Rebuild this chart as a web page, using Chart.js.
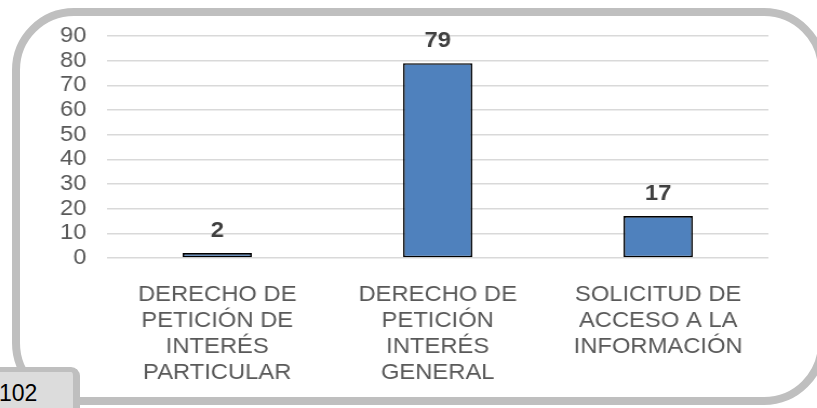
<!DOCTYPE html>
<html>
<head>
<meta charset="utf-8">
<script src="https://cdn.jsdelivr.net/npm/chart.js@4"></script>
<style>
  html, body { margin: 0; padding: 0; background: #fff; overflow: hidden; }
  #page { position: relative; width: 817px; height: 408px; overflow: hidden; font-family: "Liberation Sans", Arial, sans-serif; }
  #frame { position: absolute; left: 12px; top: 8px; width: 798px; height: 381px; border: 8px solid #bfbfbf; border-radius: 62px; }
  #tab { position: absolute; left: -10px; top: 367px; width: 83px; height: 60px; background: #dcdcdc; border-top: 5px solid #bfbfbf; border-right: 7px solid #bfbfbf; border-top-right-radius: 9px; }
  #tab-text { position: absolute; left: -1px; top: 382px; font-size: 23px; line-height: 23px; color: #000; }
  /* the source picture is stretched sideways a little, so the canvas is too */
  #wrap { position: absolute; left: 0; top: 0; width: 756px; height: 408px; transform: scaleX(1.0807); transform-origin: 0 0; }
</style>
</head>
<body>
<div id="page">
  <div id="frame"></div>
  <div id="wrap"><canvas id="chart" width="756" height="408"></canvas></div>
  <div id="tab"></div>
  <div id="tab-text">102</div>
</div>
<script>
const categories = [
  ['DERECHO DE', 'PETICIÓN DE', 'INTERÉS', 'PARTICULAR'],
  ['DERECHO DE', 'PETICIÓN', 'INTERÉS', 'GENERAL'],
  ['SOLICITUD DE', 'ACCESO A LA', 'INFORMACIÓN'],
];
const counts = [2, 79, 17];
const yMin = 0;
const yMax = 90;
const yStep = 10;

const FONT = '"Liberation Sans", Arial, sans-serif';

// value labels above each bar
const valueLabels = {
  id: 'valueLabels',
  afterDatasetsDraw(chart) {
    const ctx = chart.ctx;
    const meta = chart.getDatasetMeta(0);
    ctx.save();
    ctx.font = `bold 22px ${FONT}`;
    ctx.fillStyle = '#404040';
    ctx.textAlign = 'center';
    ctx.textBaseline = 'alphabetic';
    meta.data.forEach((bar, i) => {
      ctx.fillText(String(counts[i]), bar.x, bar.y - 16);
    });
    ctx.restore();
  },
};

new Chart(document.getElementById('chart'), {
  type: 'bar',
  data: {
    labels: categories,
    datasets: [{
      data: counts,
      backgroundColor: '#4f81bd',
      borderColor: '#000000',
      borderWidth: 1.6,
      borderSkipped: false,
      categoryPercentage: 1,
      barPercentage: 0.314,
    }],
  },
  options: {
    responsive: false,
    animation: false,
    devicePixelRatio: 1,
    layout: { padding: { top: 36, right: 45, left: 0, bottom: 0 } },
    plugins: { legend: { display: false }, tooltip: { enabled: false } },
    scales: {
      x: {
        grid: { display: false },
        border: { display: false },
        ticks: {
          color: '#595959',
          font: { family: FONT, size: 22, lineHeight: '26px' },
          padding: 16,
          maxRotation: 0,
          autoSkip: false,
        },
        afterFit(scale) { scale.height = 150; },
      },
      y: {
        min: yMin,
        max: yMax,
        grid: { color: '#d9d9d9', lineWidth: 1.4, drawTicks: false },
        border: { display: false },
        ticks: {
          stepSize: yStep,
          autoSkip: false,
          color: '#595959',
          font: { family: FONT, size: 22, lineHeight: 1 },
          padding: 19,
        },
        afterFit(scale) { scale.width = 99; },
      },
    },
  },
  plugins: [valueLabels],
});
</script>
</body>
</html>
